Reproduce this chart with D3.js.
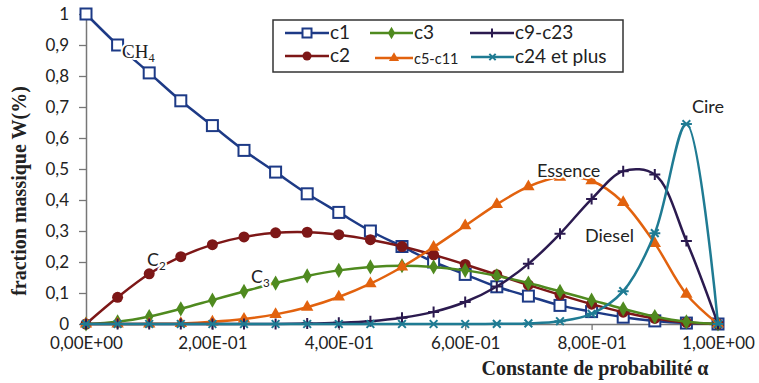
<!DOCTYPE html>
<html>
<head>
<meta charset="utf-8">
<script src="https://cdn.jsdelivr.net/npm/d3@7"></script>
<style>
  body { margin: 0; background: #fff; }
  svg { display: block; }
</style>
</head>
<body>
<div id="chart"></div>
<script>
// probability constant alpha (x categories)
const alphaVals = [0, 0.05, 0.1, 0.15, 0.2, 0.25, 0.3, 0.35, 0.4, 0.45, 0.5,
                   0.55, 0.6, 0.65, 0.7, 0.75, 0.8, 0.85, 0.9, 0.95, 1];

// mass fractions
const c1    = [1, 0.90, 0.81, 0.72, 0.64, 0.56, 0.49, 0.42, 0.36, 0.30, 0.25,
               0.20, 0.16, 0.12, 0.09, 0.06, 0.04, 0.022, 0.01, 0.003, 0];
const c2    = [0, 0.086, 0.162, 0.217, 0.256, 0.281, 0.294, 0.296, 0.288, 0.272, 0.25,
               0.223, 0.192, 0.159, 0.126, 0.094, 0.064, 0.038, 0.018, 0.005, 0];
const c3    = [0, 0.007, 0.024, 0.049, 0.077, 0.105, 0.132, 0.155, 0.173, 0.184, 0.188,
               0.184, 0.173, 0.155, 0.132, 0.105, 0.077, 0.049, 0.024, 0.007, 0];
const c5c11 = [0, 0, 0.0005, 0.002, 0.007, 0.016, 0.031, 0.054, 0.087, 0.130, 0.184,
               0.248, 0.317, 0.386, 0.443, 0.474, 0.462, 0.392, 0.260, 0.096, 0];
const c9c23 = [0, 0, 0, 0, 0, 0, 0.0004, 0.0014, 0.004, 0.009, 0.02,
               0.039, 0.071, 0.121, 0.194, 0.291, 0.403, 0.493, 0.482, 0.268, 0];
const c24   = [0, 0, 0, 0, 0, 0, 0, 0, 0, 0, 0,
               0, 0, 0.0005, 0.002, 0.009, 0.033, 0.106, 0.293, 0.645, 0];

const seriesNames = ["c1", "c2", "c3", "c5-c11", "c9-c23", "c24 et plus"];
const seriesData  = [c1, c2, c3, c5c11, c9c23, c24];

const yTicks = [0, 0.1, 0.2, 0.3, 0.4, 0.5, 0.6, 0.7, 0.8, 0.9, 1];
const yTickLabels = ["0", "0,1", "0,2", "0,3", "0,4", "0,5", "0,6", "0,7", "0,8", "0,9", "1"];
const xTicks = [0, 0.2, 0.4, 0.6, 0.8, 1];
const xTickLabels = ["0,00E+00", "2,00E-01", "4,00E-01", "6,00E-01", "8,00E-01", "1,00E+00"];

const colors  = ["#1d3a86", "#7d1717", "#4f8a1f", "#e2620e", "#2b1a4f", "#1f7b93"];
const markers = ["square", "circle", "diamond", "triangle", "plus", "star"];

const W = 759, H = 383;
const svg = d3.select("#chart").append("svg")
  .attr("width", W).attr("height", H);

const x = d3.scaleLinear().domain([0, 1]).range([86, 718]);
const y = d3.scaleLinear().domain([0, 1]).range([324, 14]);

const labelFont = "Lato, 'Open Sans', sans-serif";
const serifFont = "'Liberation Serif', 'DejaVu Serif', serif";

// axes
const yAxis = d3.axisLeft(y).tickValues(yTicks)
  .tickFormat((d, i) => yTickLabels[i]).tickSize(7).tickSizeOuter(0).tickPadding(10);
const gy = svg.append("g").attr("transform", "translate(86,0)").call(yAxis);
gy.select(".domain").attr("stroke", "#777").attr("stroke-width", 1.5);
gy.selectAll(".tick line").attr("stroke", "#777").attr("stroke-width", 1.3);
gy.selectAll("text").attr("font-family", labelFont).attr("font-size", 17).attr("fill", "#222");

const xAxis = d3.axisBottom(x).tickValues(xTicks)
  .tickFormat((d, i) => xTickLabels[i]).tickSize(6).tickSizeOuter(0).tickPadding(7);
const gx = svg.append("g").attr("transform", "translate(0,324)").call(xAxis);
gx.select(".domain").attr("stroke", "#777").attr("stroke-width", 1.5);
gx.selectAll(".tick line").attr("stroke", "#777").attr("stroke-width", 1.3);
gx.selectAll("text").attr("font-family", labelFont).attr("font-size", 17).attr("fill", "#222");

// axis titles
svg.append("text")
  .attr("transform", "translate(26,191) rotate(-90)")
  .attr("text-anchor", "middle")
  .attr("font-family", serifFont).attr("font-weight", "bold").attr("font-size", 20)
  .attr("fill", "#222")
  .text("fraction massique W(%)");

svg.append("text")
  .attr("x", 595).attr("y", 375)
  .attr("text-anchor", "middle")
  .attr("font-family", serifFont).attr("font-weight", "bold").attr("font-size", 20)
  .attr("fill", "#222")
  .text("Constante de probabilité  α");

// marker drawing
function drawMarker(g, type, color, size) {
  const s = size;
  if (type === "square") {
    g.append("rect").attr("x", -s / 2).attr("y", -s / 2).attr("width", s).attr("height", s)
      .attr("fill", "#fff").attr("stroke", color).attr("stroke-width", 2);
  } else if (type === "circle") {
    g.append("circle").attr("r", s / 2).attr("fill", color);
  } else if (type === "diamond") {
    g.append("path").attr("d", d3.symbol(d3.symbolDiamond, s * s * 0.55)())
      .attr("fill", color);
  } else if (type === "triangle") {
    g.append("path").attr("d", d3.symbol(d3.symbolTriangle, s * s * 0.55)())
      .attr("fill", color);
  } else if (type === "plus") {
    g.append("path").attr("d", `M${-s / 2},0H${s / 2}M0,${-s / 2}V${s / 2}`)
      .attr("stroke", color).attr("stroke-width", 2);
  } else if (type === "star") {
    const r = s / 2;
    g.append("path")
      .attr("d", `M${-r},0H${r}M${-r * 0.7},${-r * 0.7}L${r * 0.7},${r * 0.7}M${-r * 0.7},${r * 0.7}L${r * 0.7},${-r * 0.7}`)
      .attr("stroke", color).attr("stroke-width", 2);
  }
}

// lines
const line = d3.line()
  .x((d, i) => x(alphaVals[i]))
  .y(d => y(d))
  .curve(d3.curveCatmullRom.alpha(0.5));

seriesData.forEach((vals, k) => {
  const g = svg.append("g");
  g.append("path").datum(vals)
    .attr("d", line)
    .attr("fill", "none")
    .attr("stroke", colors[k])
    .attr("stroke-width", 2.5);
  g.selectAll("g.pt").data(vals).enter().append("g")
    .attr("class", "pt")
    .attr("transform", (d, i) => `translate(${x(alphaVals[i])},${y(d)})`)
    .each(function () { drawMarker(d3.select(this), markers[k], colors[k], 11); });
});

// annotations (white halo cuts the lines like in the original)
function note(txt, px, py, fam, size, sub) {
  const t = svg.append("text")
    .attr("x", px).attr("y", py)
    .attr("font-family", fam).attr("font-size", size).attr("fill", "#222")
    .attr("stroke", "#fff").attr("stroke-width", 4).attr("paint-order", "stroke");
  t.append("tspan").text(txt);
  if (sub) t.append("tspan").attr("dy", 4).attr("font-size", size * 0.65).text(sub);
  return t;
}
note("CH", 122, 58, serifFont, 19, "4");
note("C", 147, 266, labelFont, 18, "2");
note("C", 251, 283, labelFont, 18, "3");
note("Essence", 537, 177, labelFont, 18);
note("Diesel", 585, 242, labelFont, 18);
note("Cire", 692, 113, labelFont, 18);

// legend
const legend = svg.append("g");
legend.append("rect")
  .attr("x", 273).attr("y", 20).attr("width", 350).attr("height", 52)
  .attr("fill", "#fff").attr("stroke", "#333").attr("stroke-width", 1.5);

const legendPos = [
  { x: 285, y: 33, len: 44, fs: 19 },
  { x: 285, y: 56, len: 44, fs: 19 },
  { x: 370, y: 33, len: 43, fs: 19 },
  { x: 375, y: 58, len: 38, fs: 14.5 },
  { x: 470, y: 33, len: 44, fs: 19 },
  { x: 471, y: 57, len: 43, fs: 19 }
];
seriesNames.forEach((name, k) => {
  const p = legendPos[k];
  const g = legend.append("g");
  g.append("line").attr("x1", p.x).attr("x2", p.x + p.len)
    .attr("y1", p.y).attr("y2", p.y)
    .attr("stroke", colors[k]).attr("stroke-width", 2.5);
  const m = g.append("g").attr("transform", `translate(${p.x + p.len / 2},${p.y})`);
  drawMarker(m, markers[k], colors[k], 9);
  g.append("text").attr("x", p.x + p.len + 1).attr("y", p.y + 6)
    .attr("font-family", labelFont).attr("font-size", p.fs).attr("fill", "#222")
    .text(name);
});
</script>
</body>
</html>
